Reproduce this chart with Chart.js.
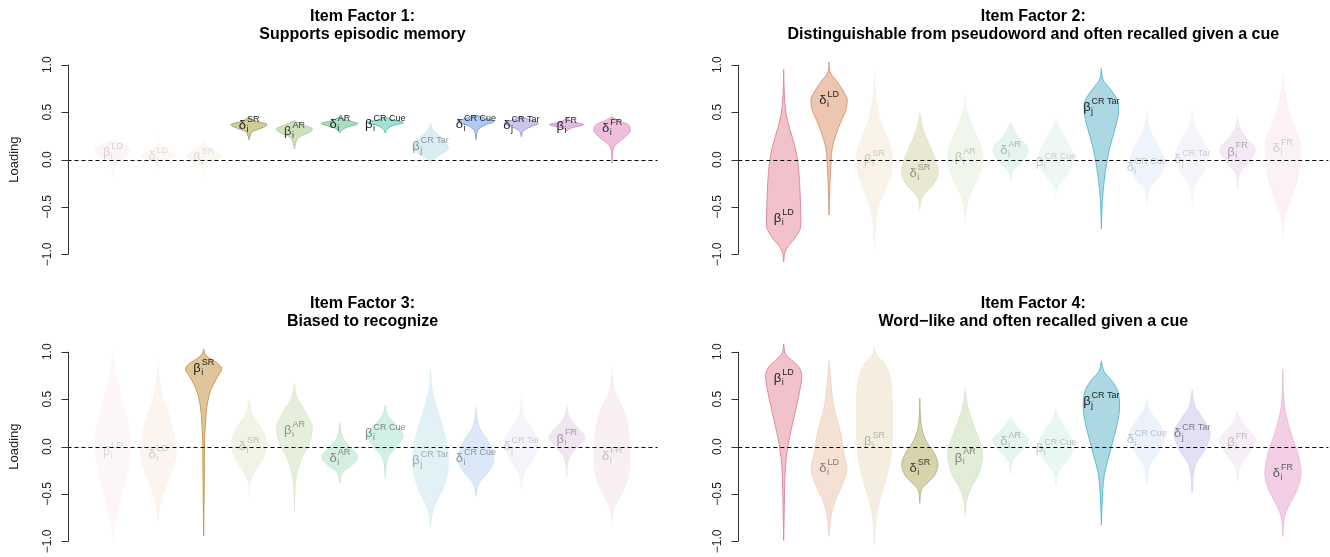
<!DOCTYPE html>
<html>
<head>
<meta charset="utf-8">
<script src="https://cdn.jsdelivr.net/npm/chart.js@4.4.1/dist/chart.umd.min.js"></script>
<style>
  html, body { margin: 0; padding: 0; background: #fff; }
  #wrap { position: relative; width: 1330px; height: 557px; overflow: hidden; }
  .panel { position: absolute; width: 665px; height: 270px; }
</style>
</head>
<body>
<div id="wrap">
  <div class="panel" style="left:0;top:0"><canvas id="f1" width="665" height="270"></canvas></div>
  <div class="panel" style="left:665px;top:0"><canvas id="f2" width="665" height="270"></canvas></div>
  <div class="panel" style="left:0;top:287px"><canvas id="f3" width="665" height="270"></canvas></div>
  <div class="panel" style="left:665px;top:287px"><canvas id="f4" width="665" height="270"></canvas></div>
</div>
<script>
// Titulos de cada factor
const factorTitles = [
  ['Item Factor 1:', 'Supports episodic memory'],
  ['Item Factor 2:', 'Distinguishable from pseudoword and often recalled given a cue'],
  ['Item Factor 3:', 'Biased to recognize'],
  ['Item Factor 4:', 'Word\u2212like and often recalled given a cue']
];

// Parametros (categorias del eje x)
const itemSymbols = ['β', 'δ', 'β', 'δ', 'β', 'δ', 'β', 'β', 'δ', 'δ', 'β', 'δ'];
const itemSubs = ['i', 'i', 'i', 'i', 'i', 'i', 'i', 'j', 'i', 'j', 'i', 'i'];
const itemSups = ['LD', 'LD', 'SR', 'SR', 'AR', 'AR', 'CR Cue', 'CR Tar', 'CR Cue', 'CR Tar', 'FR', 'FR'];

const tickValues = [-1, -0.5, 0, 0.5, 1];
const tickLabels = ['\u22121.0', '\u22120.5', '0.0', '0.5', '1.0'];

// Perfil de cada violin: pares [carga, semiancho]
const factor1Shapes = [
  [[-0.20,0],[-0.11,0.03],[-0.04,0.11],[0.03,0.29],[0.10,0.40],[0.155,0.26],[0.19,0.07],[0.225,0]],
  [[-0.13,0],[-0.05,0.06],[0.0,0.26],[0.05,0.40],[0.10,0.18],[0.155,0.04],[0.28,0]],
  [[-0.20,0],[-0.07,0.06],[-0.02,0.22],[0.03,0.40],[0.10,0.22],[0.155,0.06],[0.21,0]],
  [[0.21,0],[0.26,0.03],[0.30,0.09],[0.33,0.26],[0.37,0.40],[0.40,0.18],[0.44,0]],
  [[0.11,0],[0.19,0.04],[0.24,0.11],[0.28,0.29],[0.32,0.40],[0.37,0.18],[0.41,0]],
  [[0.28,0],[0.31,0.04],[0.34,0.15],[0.38,0.40],[0.41,0.18],[0.45,0]],
  [[0.28,0],[0.32,0.04],[0.36,0.18],[0.39,0.40],[0.42,0.15],[0.45,0]],
  [[-0.04,0],[0.0,0.06],[0.05,0.22],[0.12,0.40],[0.24,0.22],[0.31,0.07],[0.38,0]],
  [[0.21,0],[0.31,0.04],[0.37,0.22],[0.40,0.40],[0.44,0.18],[0.47,0]],
  [[0.24,0],[0.30,0.04],[0.35,0.22],[0.38,0.38],[0.42,0.18],[0.45,0]],
  [[0.30,0],[0.32,0.04],[0.34,0.15],[0.37,0.38],[0.39,0.18],[0.44,0]],
  [[-0.04,0],[0.12,0.03],[0.17,0.11],[0.24,0.29],[0.31,0.40],[0.37,0.35],[0.41,0.15],[0.45,0]]
];
const factor1Medians = [0.07, 0.03, 0.02, 0.36, 0.30, 0.37, 0.37, 0.14, 0.37, 0.36, 0.35, 0.33];

const factor2Shapes = [
  [[-1.08,0],[-0.975,0.03],[-0.92,0.09],[-0.82,0.26],[-0.69,0.38],[-0.48,0.37],[-0.24,0.35],[-0.02,0.31],[0.15,0.24],[0.33,0.13],[0.49,0.05],[0.68,0.015],[0.95,0]],
  [[-0.585,0],[-0.24,0.02],[-0.06,0.04],[0.12,0.07],[0.26,0.15],[0.40,0.26],[0.52,0.37],[0.63,0.40],[0.71,0.33],[0.82,0.18],[0.93,0.02],[1.03,0]],
  [[-0.975,0],[-0.83,0.015],[-0.66,0.04],[-0.48,0.11],[-0.30,0.26],[-0.13,0.38],[0.05,0.40],[0.22,0.29],[0.40,0.15],[0.58,0.06],[0.75,0.02],[0.95,0]],
  [[-0.535,0],[-0.41,0.04],[-0.34,0.15],[-0.27,0.29],[-0.13,0.41],[0.05,0.31],[0.19,0.18],[0.33,0.07],[0.49,0]],
  [[-0.68,0],[-0.45,0.06],[-0.30,0.18],[-0.13,0.35],[0.05,0.39],[0.22,0.29],[0.40,0.13],[0.54,0.04],[0.68,0]],
  [[-0.22,0],[-0.11,0.07],[-0.02,0.26],[0.10,0.40],[0.26,0.15],[0.40,0]],
  [[-0.39,0],[-0.27,0.07],[-0.16,0.26],[0.0,0.40],[0.19,0.26],[0.33,0.09],[0.45,0]],
  [[-0.73,0],[-0.45,0.02],[-0.23,0.06],[-0.06,0.11],[0.12,0.18],[0.29,0.28],[0.47,0.37],[0.58,0.38],[0.68,0.29],[0.77,0.15],[0.84,0.04],[0.96,0]],
  [[-0.48,0],[-0.30,0.07],[-0.20,0.26],[-0.04,0.39],[0.15,0.26],[0.29,0.09],[0.52,0]],
  [[-0.50,0],[-0.27,0.07],[-0.13,0.26],[0.05,0.38],[0.22,0.22],[0.35,0.07],[0.52,0]],
  [[-0.31,0],[-0.13,0.07],[-0.02,0.26],[0.10,0.40],[0.24,0.18],[0.33,0.06],[0.45,0]],
  [[-0.85,0],[-0.73,0.02],[-0.59,0.06],[-0.45,0.16],[-0.27,0.29],[-0.06,0.38],[0.15,0.40],[0.40,0.22],[0.57,0.11],[0.75,0.04],[0.91,0]]
];
const factor2Medians = [-0.62, 0.62, 0.0, -0.15, 0.02, 0.10, -0.03, 0.55, -0.08, 0.0, 0.08, 0.12];

const factor3Shapes = [
  [[-1.03,0],[-0.92,0.015],[-0.81,0.06],[-0.60,0.16],[-0.35,0.29],[-0.11,0.38],[0.07,0.39],[0.35,0.29],[0.59,0.16],[0.84,0.04],[1.02,0]],
  [[-0.81,0],[-0.60,0.06],[-0.46,0.15],[-0.28,0.29],[-0.07,0.40],[0.10,0.37],[0.31,0.26],[0.52,0.11],[0.70,0.04],[0.93,0]],
  [[-0.94,0],[-0.28,0.015],[0.07,0.02],[0.24,0.04],[0.42,0.07],[0.60,0.16],[0.74,0.31],[0.82,0.40],[0.88,0.30],[0.93,0.14],[0.97,0.04],[1.03,0]],
  [[-0.53,0],[-0.35,0.04],[-0.25,0.15],[-0.11,0.33],[0.03,0.40],[0.21,0.26],[0.33,0.09],[0.51,0]],
  [[-0.69,0],[-0.35,0.04],[-0.14,0.15],[0.03,0.33],[0.19,0.40],[0.39,0.22],[0.51,0.07],[0.67,0]],
  [[-0.39,0],[-0.27,0.07],[-0.20,0.26],[-0.11,0.40],[0.0,0.22],[0.09,0.07],[0.26,0]],
  [[-0.34,0],[-0.11,0.07],[0.0,0.26],[0.12,0.40],[0.24,0.22],[0.33,0.06],[0.44,0]],
  [[-0.86,0],[-0.74,0.03],[-0.63,0.09],[-0.46,0.26],[-0.28,0.38],[-0.14,0.40],[0.10,0.33],[0.35,0.18],[0.60,0.04],[0.82,0]],
  [[-0.53,0],[-0.39,0.07],[-0.28,0.26],[-0.14,0.40],[0.07,0.26],[0.19,0.09],[0.42,0]],
  [[-0.48,0],[-0.28,0.07],[-0.14,0.26],[0.03,0.37],[0.21,0.22],[0.31,0.07],[0.56,0]],
  [[-0.32,0],[-0.11,0.07],[0.0,0.26],[0.10,0.40],[0.23,0.18],[0.31,0.06],[0.44,0]],
  [[-0.86,0],[-0.74,0.02],[-0.63,0.07],[-0.53,0.18],[-0.35,0.35],[-0.11,0.40],[0.14,0.38],[0.35,0.29],[0.60,0.06],[0.84,0]]
];
const factor3Medians = [-0.05, -0.08, 0.82, 0.0, 0.17, -0.13, 0.14, -0.15, -0.13, 0.0, 0.08, -0.10];

const factor4Shapes = [
  [[-0.99,0],[-0.74,0.01],[-0.46,0.02],[-0.21,0.04],[0.0,0.09],[0.21,0.18],[0.42,0.28],[0.63,0.37],[0.74,0.40],[0.84,0.33],[0.91,0.18],[0.98,0.04],[1.08,0]],
  [[-0.95,0],[-0.70,0.06],[-0.56,0.15],[-0.39,0.31],[-0.23,0.40],[-0.07,0.33],[0.14,0.26],[0.42,0.11],[0.70,0.04],[0.91,0]],
  [[-1.06,0],[-0.78,0.04],[-0.56,0.13],[-0.35,0.26],[-0.11,0.37],[0.14,0.40],[0.42,0.40],[0.74,0.35],[0.88,0.22],[0.98,0.04],[1.07,0]],
  [[-0.60,0],[-0.45,0.04],[-0.38,0.18],[-0.30,0.33],[-0.19,0.40],[-0.08,0.33],[0.05,0.15],[0.20,0.04],[0.51,0]],
  [[-0.72,0],[-0.56,0.04],[-0.42,0.15],[-0.28,0.31],[-0.07,0.39],[0.10,0.29],[0.24,0.18],[0.42,0.06],[0.61,0]],
  [[-0.30,0],[-0.14,0.07],[-0.04,0.26],[0.07,0.40],[0.19,0.18],[0.31,0]],
  [[-0.42,0],[-0.27,0.07],[-0.14,0.26],[0.0,0.40],[0.19,0.22],[0.30,0.07],[0.40,0]],
  [[-0.83,0],[-0.46,0.03],[-0.28,0.07],[-0.11,0.16],[0.07,0.26],[0.24,0.35],[0.42,0.40],[0.60,0.35],[0.70,0.22],[0.79,0.06],[0.90,0]],
  [[-0.42,0],[-0.18,0.09],[-0.04,0.29],[0.12,0.40],[0.28,0.22],[0.38,0.07],[0.51,0]],
  [[-0.49,0],[-0.18,0.09],[-0.04,0.28],[0.14,0.40],[0.31,0.22],[0.42,0.07],[0.60,0]],
  [[-0.39,0],[-0.20,0.07],[-0.07,0.26],[0.07,0.40],[0.21,0.18],[0.30,0.06],[0.38,0]],
  [[-0.95,0],[-0.74,0.04],[-0.63,0.13],[-0.46,0.31],[-0.28,0.40],[-0.07,0.33],[0.14,0.18],[0.42,0.04],[0.82,0]]
];
const factor4Medians = [0.72, -0.23, 0.05, -0.23, -0.12, 0.05, -0.02, 0.48, 0.07, 0.14, 0.04, -0.28];

// Estilo: colores por parametro y opacidad por panel
const itemFill = ['#F2C2CB', '#EDC6B1', '#E0C59C', '#CFCD9E', '#C6DBB0', '#A9DDC2', '#A3DED0', '#ABD8E3', '#B0CBEF', '#CAC6EA', '#DFBDE1', '#EDBBD9'];
const itemBorder = ['#E3899B', '#DB9B79', '#C89B55', '#A6A36A', '#98BC83', '#6FC597', '#5CC5AF', '#62BBD0', '#7CA3E0', '#A09ADA', '#C792CB', '#DD92C0'];
const factor1Opacity = [0.18, 0.14, 0.14, 1, 0.85, 1, 1, 0.45, 1, 1, 1, 0.95];
const factor2Opacity = [1, 1, 0.22, 0.45, 0.25, 0.3, 0.2, 1, 0.22, 0.2, 0.35, 0.2];
const factor3Opacity = [0.15, 0.2, 1, 0.25, 0.45, 0.5, 0.5, 0.35, 0.45, 0.2, 0.4, 0.25];
const factor4Opacity = [1, 0.55, 0.3, 0.85, 0.5, 0.3, 0.25, 1, 0.25, 0.55, 0.25, 0.7];

function rgba(hex, a) {
  const n = parseInt(hex.slice(1), 16);
  return 'rgba(' + (n >> 16) + ',' + ((n >> 8) & 255) + ',' + (n & 255) + ',' + a + ')';
}

// Pendientes monotonas (Fritsch-Carlson) para suavizar el contorno
function slopes(vs, ws) {
  const n = vs.length, d = [], m = new Array(n);
  for (let k = 0; k < n - 1; k++) d.push((ws[k + 1] - ws[k]) / (vs[k + 1] - vs[k]));
  m[0] = d[0]; m[n - 1] = d[n - 2];
  for (let k = 1; k < n - 1; k++) m[k] = (d[k - 1] * d[k] <= 0) ? 0 : (d[k - 1] + d[k]) / 2;
  for (let k = 0; k < n - 1; k++) {
    if (d[k] === 0) { m[k] = 0; m[k + 1] = 0; continue; }
    const a = m[k] / d[k], b = m[k + 1] / d[k], s = a * a + b * b;
    if (s > 9) { const t = 3 / Math.sqrt(s); m[k] = t * a * d[k]; m[k + 1] = t * b * d[k]; }
  }
  return m;
}

function violinPath(ctx, knots, cx, sx, yPix) {
  const vs = knots.map(k => k[0]), ws = knots.map(k => k[1]);
  const m = slopes(vs, ws), n = vs.length;
  ctx.beginPath();
  ctx.moveTo(cx + sx * ws[0], yPix(vs[0]));
  const seg = (a, b, side) => {
    const h = vs[b] - vs[a];
    ctx.bezierCurveTo(
      cx + side * sx * (ws[a] + m[a] * h / 3), yPix(vs[a] + h / 3),
      cx + side * sx * (ws[b] - m[b] * h / 3), yPix(vs[b] - h / 3),
      cx + side * sx * ws[b], yPix(vs[b]));
  };
  for (let k = 0; k < n - 1; k++) seg(k, k + 1, 1);
  for (let k = n - 1; k > 0; k--) seg(k, k - 1, -1);
  ctx.closePath();
}

const violinPlugin = {
  id: 'violins',
  afterDraw(chart, args, opts) {
    const { ctx, chartArea: area, scales: { x, y } } = chart;
    const sx = x.getPixelForValue(1) - x.getPixelForValue(0);
    const yPix = v => y.getPixelForValue(v);
    ctx.save();

    // violines
    opts.shapes.forEach((knots, i) => {
      const cx = x.getPixelForValue(i + 1), a = opts.opacity[i];
      violinPath(ctx, knots, cx, sx, yPix);
      ctx.fillStyle = rgba(itemFill[i], a);
      ctx.fill();
      ctx.strokeStyle = rgba(itemBorder[i], Math.pow(a, 2.5));
      ctx.lineWidth = 1;
      ctx.stroke();
    });

    // linea de referencia en cero
    ctx.beginPath();
    ctx.setLineDash([4, 3]);
    ctx.strokeStyle = '#000';
    ctx.lineWidth = 1.2;
    ctx.moveTo(x.getPixelForValue(0), Math.round(yPix(0)) + 0.5);
    ctx.lineTo(x.getPixelForValue(13), Math.round(yPix(0)) + 0.5);
    ctx.stroke();
    ctx.setLineDash([]);

    // etiquetas de cada violin
    opts.medians.forEach((v, i) => {
      const cx = x.getPixelForValue(i + 1), yc = yPix(v);
      ctx.font = "13px 'Liberation Sans', Arial, sans-serif";
      const w0 = ctx.measureText(itemSymbols[i]).width;
      ctx.font = "9px 'Liberation Sans', Arial, sans-serif";
      const w1 = Math.max(ctx.measureText(itemSups[i]).width, ctx.measureText(itemSubs[i]).width);
      const left = cx - (w0 + w1 + 1) / 2;
      ctx.fillStyle = 'rgba(30,30,30,' + opts.opacity[i] + ')';
      ctx.textAlign = 'left';
      ctx.textBaseline = 'middle';
      ctx.font = "13px 'Liberation Sans', Arial, sans-serif";
      ctx.fillText(itemSymbols[i], left, yc);
      ctx.font = "9px 'Liberation Sans', Arial, sans-serif";
      ctx.fillText(itemSups[i], left + w0 + 1, yc - 6);
      ctx.fillText(itemSubs[i], left + w0 + 0.5, yc + 4);
    });

    // eje y al estilo R
    const ax = Math.round(area.left) + 0.5;
    ctx.strokeStyle = '#333';
    ctx.lineWidth = 1;
    ctx.beginPath();
    ctx.moveTo(ax, yPix(tickValues[0]));
    ctx.lineTo(ax, yPix(tickValues[tickValues.length - 1]));
    tickValues.forEach(t => {
      ctx.moveTo(ax, Math.round(yPix(t)) + 0.5);
      ctx.lineTo(ax - 7, Math.round(yPix(t)) + 0.5);
    });
    ctx.stroke();
    ctx.fillStyle = '#222';
    ctx.font = "12px 'Liberation Sans', Arial, sans-serif";
    ctx.textAlign = 'center';
    ctx.textBaseline = 'alphabetic';
    tickValues.forEach((t, k) => {
      ctx.save();
      ctx.translate(ax - 17.5, yPix(t));
      ctx.rotate(-Math.PI / 2);
      ctx.fillText(tickLabels[k], 0, 0);
      ctx.restore();
    });
    if (opts.yTitle) {
      ctx.save();
      ctx.font = "13px 'Liberation Sans', Arial, sans-serif";
      ctx.translate(17.5, (area.top + area.bottom) / 2);
      ctx.rotate(-Math.PI / 2);
      ctx.fillText(opts.yTitle, 0, 0);
      ctx.restore();
    }

    // titulo en dos lineas
    ctx.font = "bold 16px 'Liberation Sans', Arial, sans-serif";
    ctx.fillStyle = '#000';
    ctx.textAlign = 'center';
    const tx = (area.left + area.right) / 2;
    opts.title.forEach((line, j) => {
      ctx.fillText(line, tx, 20.7 + j * 18.3);
    });
    ctx.restore();
  }
};

const panels = [
  { id: 'f1', left: 67.5, yTitle: 'Loading', shapes: factor1Shapes, medians: factor1Medians, opacity: factor1Opacity, title: factorTitles[0] },
  { id: 'f2', left: 73.3, yTitle: '', shapes: factor2Shapes, medians: factor2Medians, opacity: factor2Opacity, title: factorTitles[1] },
  { id: 'f3', left: 67.5, yTitle: 'Loading', shapes: factor3Shapes, medians: factor3Medians, opacity: factor3Opacity, title: factorTitles[2] },
  { id: 'f4', left: 73.3, yTitle: '', shapes: factor4Shapes, medians: factor4Medians, opacity: factor4Opacity, title: factorTitles[3] }
];

panels.forEach(p => {
  new Chart(document.getElementById(p.id), {
    type: 'scatter',
    data: { datasets: [] },
    options: {
      responsive: false,
      animation: false,
      events: [],
      layout: { padding: { left: p.left, right: 665 - p.left - 590, top: 57.2, bottom: 8.1 } },
      plugins: {
        legend: { display: false },
        title: { display: false },
        tooltip: { enabled: false },
        violins: p
      },
      scales: {
        x: { type: 'linear', min: 0, max: 13, display: false },
        y: { type: 'linear', min: -1.08, max: 1.08, display: false }
      }
    },
    plugins: [violinPlugin]
  });
});
</script>
</body>
</html>
